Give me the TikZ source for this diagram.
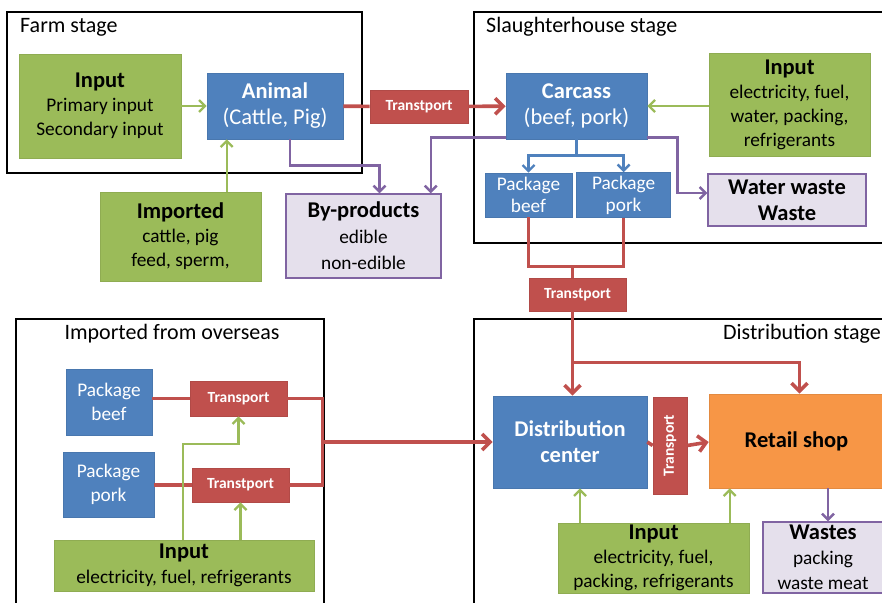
\documentclass[tikz,border=0pt]{standalone}
\usepackage{fontspec}
\setmainfont{Carlito}
\usetikzlibrary{arrows.meta}
\usetikzlibrary{positioning}

\definecolor{offblue}{HTML}{4F81BD}
\definecolor{offgreen}{HTML}{9BBB59}
\definecolor{offred}{HTML}{C0504D}
\definecolor{offorange}{HTML}{F79646}
\definecolor{offpurple}{HTML}{8064A2}
\definecolor{offlilac}{HTML}{E5E0EC}

\newcommand{\headtxt}[1]{{\fontsize{22.5}{26}\selectfont\bfseries #1}}

\begin{document}
\begin{tikzpicture}[x=1pt,y=-1pt,>={Straight Barb[length=8pt,width=16pt]},every node/.append style={align=center,inner sep=0pt,font=\fontsize{19.3}{24}\selectfont},
  stage/.style={draw,line width=2.4pt},
  stitle/.style={font=\fontsize{22}{26}\selectfont},
  inbox/.style={fill=offgreen,draw=offgreen!92!black,line width=0.6pt},
  prod/.style={fill=offblue,draw=offblue!92!black,line width=0.6pt,text=white},
  trans/.style={fill=offred,draw=offred!92!black,line width=0.6pt,text=white,font=\fontsize{15.5}{18}\selectfont\bfseries},
  waste/.style={fill=offlilac,draw=offpurple,line width=1.4pt},
  shop/.style={fill=offorange,draw=offorange!92!black,line width=0.6pt},
  rline/.style={draw=offred,line width=3.6pt},
  rarrow/.style={rline,->},
  garrow/.style={->,draw=offgreen,line width=2.4pt,>={Straight Barb[length=6pt,width=12pt]}},
  parrow/.style={->,draw=offpurple,line width=2.4pt,>={Straight Barb[length=6pt,width=12pt]}},
  barrow/.style={->,draw=offblue,line width=2.4pt,>={Straight Barb[length=6pt,width=12pt]}}]
        \useasboundingbox (0,0) rectangle (882,602);
        \clip (0,0) rectangle (882,602);

        % stage frames
        \draw[stage] (7,12) rectangle (362,173);
        \draw[stage] (474,12) rectangle (892,243);
        \draw[stage] (16,319) rectangle (324,612);
        \draw[stage] (474,319) rectangle (892,612);
        \node[stitle,anchor=base west] (farmt) at (20,33) {Farm stage};
        \node[stitle,anchor=base west] (slaut) at (486,33) {Slaughterhouse stage};
        \node[stitle,anchor=base] (overt) at (172,339) {Imported from overseas};
        \node[stitle,anchor=base east] (distt) at (881,339) {Distribution stage};

        % farm
        \node[inbox,minimum width=162pt,minimum height=104pt] (farmin) at (100,106) {\headtxt{Input}\\Primary input\\Secondary input};
        \node[prod,minimum width=136pt,minimum height=66pt,font=\fontsize{22.5}{26}\selectfont] (animal) at (275,106) {\textbf{Animal}\\(Cattle, Pig)};
        \node[inbox,minimum width=161pt,minimum height=89pt] (imp) at (180.5,236.5) {\headtxt{Imported}\\cattle, pig\\feed, sperm,};
        \node[trans,minimum width=98pt,minimum height=33pt] (tr1) at (419,106.5) {Transtport};
        \node[waste,minimum width=155pt,minimum height=84pt,font=\fontsize{19.3}{26}\selectfont] (byp) at (363.5,236) {\headtxt{By-products}\\edible\\non-edible};

        % slaughterhouse
        \node[prod,minimum width=141pt,minimum height=66pt,font=\fontsize{22.5}{26}\selectfont] (carc) at (576.5,106) {\textbf{Carcass}\\(beef, pork)};
        \node[inbox,minimum width=161pt,minimum height=103pt] (slain) at (789.5,104.5) {\headtxt{Input}\\electricity, fuel,\\water, packing,\\refrigerants};
        \node[prod,minimum width=87pt,minimum height=44pt,font=\fontsize{19.3}{22}\selectfont] (pbeef) at (528.5,195) {Package\\beef};
        \node[prod,minimum width=94pt,minimum height=45pt,font=\fontsize{19.3}{22}\selectfont,right=4pt of pbeef] (ppork) {Package\\pork};
        \node[waste,minimum width=158pt,minimum height=52pt,font=\fontsize{22.5}{26}\selectfont\bfseries] (wwaste) at (787,200) {Water waste\\Waste};
        \node[trans,minimum width=97pt,minimum height=33pt] (tr2) at (577.5,294.5) {Transtport};

        % overseas
        \node[prod,minimum width=86pt,minimum height=66pt] (obeef) at (109,402) {Package\\beef};
        \node[prod,minimum width=91pt,minimum height=65pt] (opork) at (108.5,484.5) {Package\\pork};
        \node[trans,minimum width=97pt,minimum height=35pt] (otr1) at (238.5,398.5) {Transport};
        \node[trans,minimum width=97pt,minimum height=34pt] (otr2) at (240.5,485) {Transtport};
        \node[inbox,minimum width=260pt,minimum height=51pt,font=\fontsize{19.3}{25}\selectfont] (ovin) at (184,565.5) {\headtxt{Input}\\electricity, fuel, refrigerants};

        % distribution
        \node[prod,minimum width=154pt,minimum height=92pt,font=\fontsize{22.5}{26}\selectfont\bfseries] (dc) at (570,442) {Distribution\\center};
        \node[trans,minimum width=97pt,minimum height=34pt,rotate=90] (tr3) at (670,445.5) {Transport};
        \node[shop,minimum width=175pt,minimum height=94pt,font=\fontsize{22.5}{26}\selectfont\bfseries] (retail) at (796.5,441) {Retail shop};
        \node[inbox,minimum width=191pt,minimum height=70pt] (disin) at (653.5,558) {\headtxt{Input}\\electricity, fuel,\\packing, refrigerants};
        \node[waste,minimum width=120pt,minimum height=71pt,font=\fontsize{19.3}{25}\selectfont] (wst) at (823,557.5) {\headtxt{Wastes}\\packing\\waste meat};

        % farm links
        \draw[garrow] (farmin) -- (animal);
        \draw[garrow] ([xshift=20pt]animal.south west |- imp.north) -- ([xshift=20pt]animal.south west);
        \draw[rline] (animal) -- (tr1);
        \draw[rarrow] (tr1) -- (carc);
        \draw[parrow] ([xshift=83pt]animal.south west) -- ++(0,26) -| ([xshift=16pt]byp.north);
        \draw[parrow] ([yshift=2pt]carc.south west) -| ([xshift=-11pt]byp.north east);

        % slaughterhouse links
        \draw[garrow] (slain.west |- carc) -- (carc.east);
        \draw[barrow] (carc.south) -- ++(0,16) -| (pbeef.north);
        \draw[barrow] (carc.south) -- ++(0,16) -| (ppork.north);
        \draw[parrow] ([yshift=2pt]carc.south east) -- ++(30,0) |- ([yshift=7pt]wwaste.west);
        \draw[rline] (pbeef.south) -- ++(0,49) -| (ppork.south);
        \draw[rline] ([xshift=-5pt]tr2.north) -- ++(0,-12);

        % distribution links
        \draw[rarrow] ([xshift=-5pt]tr2.south) -- ([xshift=-5pt]tr2.south |- dc.north);
        \draw[rarrow] ([xshift=-5pt]tr2.south) ++(0,51) -| ([xshift=3pt]retail.north);
        \draw[rline] (dc.east) -- (tr3.north);
        \draw[rarrow] (tr3.south) -- (retail.west |- dc.east);
        \draw[garrow] ([xshift=10pt]dc.south |- disin.north) -- ([xshift=10pt]dc.south);
        \draw[garrow] ([xshift=21pt]retail.south west |- disin.north) -- ([xshift=21pt]retail.south west);
        \draw[parrow] ([xshift=5pt]retail.south -| wst.north) -- ([xshift=5pt]wst.north);

        % overseas links
        \draw[rline] (obeef.east |- otr1) -- (otr1);
        \draw[rline] (opork.east |- otr2) -- (otr2);
        \draw[rline] (otr1.east) -- ++(35,0) |- (otr2.east);
        \draw[rarrow] ([xshift=35pt]otr1.east |- dc.west) -- (dc.west);
        \draw[garrow] ([xshift=-1pt]ovin.north) -- ++(0,-96) -| (otr1.south);
        \draw[garrow] (otr2.south |- ovin.north) -- (otr2.south);
    \end{tikzpicture}
\end{document}
